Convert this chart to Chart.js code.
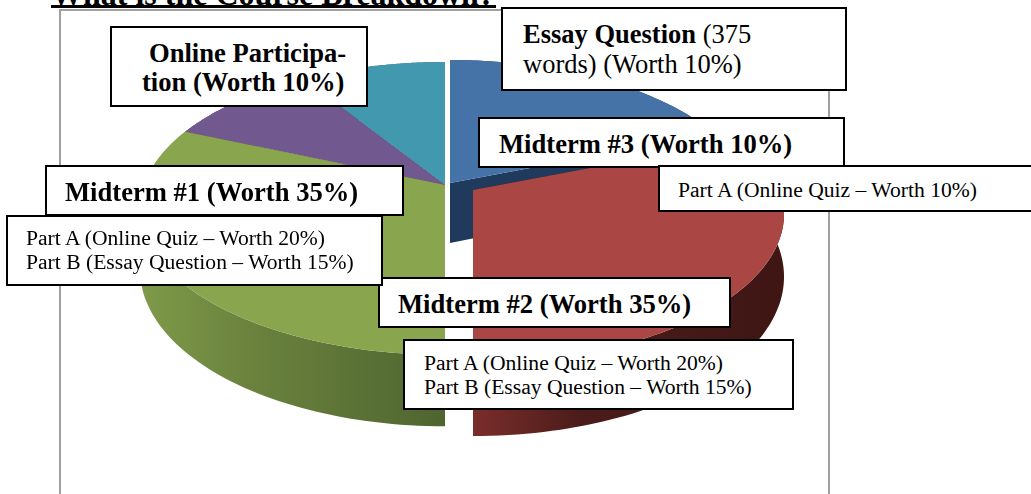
<!DOCTYPE html>
<html>
<head>
<meta charset="utf-8">
<script src="https://cdn.jsdelivr.net/npm/chart.js@4"></script>
<style>
  html, body { margin: 0; padding: 0; background: #fff; width: 1031px; height: 494px; overflow: hidden; }
  body { position: relative; font-family: "Liberation Serif", serif; color: #000; }
  #graphique { position: absolute; left: 0; top: 0; }
  #cadre { position: absolute; left: 59px; top: 9px; width: 771px; height: 500px; border: 2px solid #a0a0a0; box-sizing: border-box; }
  #titre { position: absolute; left: 51px; top: -21px; font-size: 32px; font-weight: bold; white-space: nowrap; width: 445px; height: 26px; border-bottom: 3px solid #000; line-height: 30px; }
  .boite { position: absolute; box-sizing: border-box; background: #fff; border: 2px solid #000; white-space: nowrap; }
  .boite span { position: absolute; }
  .grand { font-size: 26.6px; line-height: 29px; font-weight: bold; }
  .moyen { font-size: 26.5px; line-height: 30px; }
  .petit { font-size: 21.6px; line-height: 24px; }
</style>
</head>
<body>
<div id="cadre"></div>
<div id="titre">What is the Course Breakdown?</div>
<canvas id="graphique" width="1031" height="494"></canvas>

<div class="boite" style="left:110px;top:26px;width:258px;height:81px">
  <span class="grand" style="left:37px;top:11px">Online Participa-<br><span style="position:relative;left:-7px">tion (Worth 10%)</span></span>
</div>
<div class="boite" style="left:501px;top:7px;width:346px;height:84px">
  <span class="moyen" style="left:20px;top:10px"><b>Essay Question</b> (375<br>words) (Worth 10%)</span>
</div>
<div class="boite" style="left:478px;top:117px;width:367px;height:51px">
  <span class="grand" style="left:19px;top:11px">Midterm #3 (Worth 10%)</span>
</div>
<div class="boite" style="left:658px;top:165px;width:380px;height:47px">
  <span class="petit" style="left:18px;top:11px">Part A (Online Quiz – Worth 10%)</span>
</div>
<div class="boite" style="left:378px;top:277px;width:353px;height:51px">
  <span class="grand" style="left:18px;top:11px">Midterm #2 (Worth 35%)</span>
</div>
<div class="boite" style="left:403px;top:339px;width:391px;height:71px">
  <span class="petit" style="left:19px;top:10px">Part A (Online Quiz – Worth 20%)<br>Part B (Essay Question – Worth 15%)</span>
</div>
<div class="boite" style="left:45px;top:165px;width:359px;height:51px">
  <span class="grand" style="left:18px;top:11px">Midterm #1 (Worth 35%)</span>
</div>
<div class="boite" style="left:6px;top:215px;width:377px;height:71px">
  <span class="petit" style="left:18px;top:9px">Part A (Online Quiz – Worth 20%)<br>Part B (Essay Question – Worth 15%)</span>
</div>

<script>
// valeurs, sens horaire depuis le haut
const categories = ['Essay Question', 'Midterm #2', 'Midterm #1', 'Midterm #3', 'Online Participation'];
const values = [19, 31, 31.5, 9.5, 9];
const colors = ['#4572a7', '#aa4643', '#89a54e', '#71588f', '#4198af'];

// style 3D : decalage des parts, couleurs des cotes
const explodeX = [5, 28, 0, 0, 0];
const explodeY = [-2, 5, 0, 0, 0];
const explodeScale = [1, 1.02, 1, 1, 1];
const sideLeft = ['#1f3a5c', '#7a2d2b', '#7f9a49', '#4f3c63', '#2a6a7c'];
const sideMid = ['#1f3a5c', '#4b1c1a', '#6b833e', '#4f3c63', '#2a6a7c'];
const sideRight = ['#1f3a5c', '#3f1614', '#4f6530', '#4f3c63', '#2a6a7c'];
const drawOrder = [0, 4, 3, 2, 1];

const tilt = 0.16;      // perspective
const flatten = 0.474;  // hauteur / largeur
const depth = 60;

function pt(el, i, angle, bas) {
    var u = Math.cos(angle);
    var v = Math.sin(angle);
    var w = 1 - tilt * v;
    var R = el.outerRadius * explodeScale[i];
    return {
        x: el.x + explodeX[i] + R * u / w,
        y: el.y + explodeY[i] + R * flatten * v / w + (bas ? depth * explodeScale[i] / w : 0)
    };
}

function arcPoints(el, i, bas) {
    var pts = [];
    for (var k = 0; k <= 80; k++) {
        pts.push(pt(el, i, el.startAngle + (el.endAngle - el.startAngle) * k / 80, bas));
    }
    return pts;
}

function fillPoly(ctx, pts, fill) {
    ctx.beginPath();
    pts.forEach((p, n) => n ? ctx.lineTo(p.x, p.y) : ctx.moveTo(p.x, p.y));
    ctx.closePath();
    ctx.fillStyle = fill;
    ctx.fill();
}

const pie3d = {
    id: 'pie3d',
    beforeDatasetsDraw(chart) {
        const ctx = chart.ctx;
        const arcs = chart.getDatasetMeta(0).data;
        drawOrder.forEach((i) => {
            const el = arcs[i];
            const top = arcPoints(el, i, false);
            const low = arcPoints(el, i, true);
            const c = { x: el.x + explodeX[i], y: el.y + explodeY[i] };
            const cLow = { x: c.x, y: c.y + depth };
            const xs = top.map(p => p.x);
            const g = ctx.createLinearGradient(Math.min(...xs), 0, Math.max(...xs), 0);
            g.addColorStop(0, sideLeft[i]);
            g.addColorStop(0.35, sideMid[i]);
            g.addColorStop(1, sideRight[i]);
            // parois de coupe, cote exterieur, puis dessus
            fillPoly(ctx, [c, top[0], low[0], cLow], sideMid[i]);
            fillPoly(ctx, [c, top[80], low[80], cLow], sideMid[i]);
            fillPoly(ctx, top.concat(low.slice().reverse()), g);
            fillPoly(ctx, [c].concat(top), colors[i]);
        });
        return false;
    }
};

new Chart(document.getElementById('graphique').getContext('2d'), {
    type: 'pie',
    data: {
        labels: categories,
        datasets: [{ data: values, backgroundColor: colors, borderWidth: 0, radius: 301 }]
    },
    options: {
        responsive: false,
        animation: false,
        layout: { padding: { right: 141, bottom: 124 } },
        plugins: { legend: { display: false }, tooltip: { enabled: false } }
    },
    plugins: [pie3d]
});
</script>
</body>
</html>
